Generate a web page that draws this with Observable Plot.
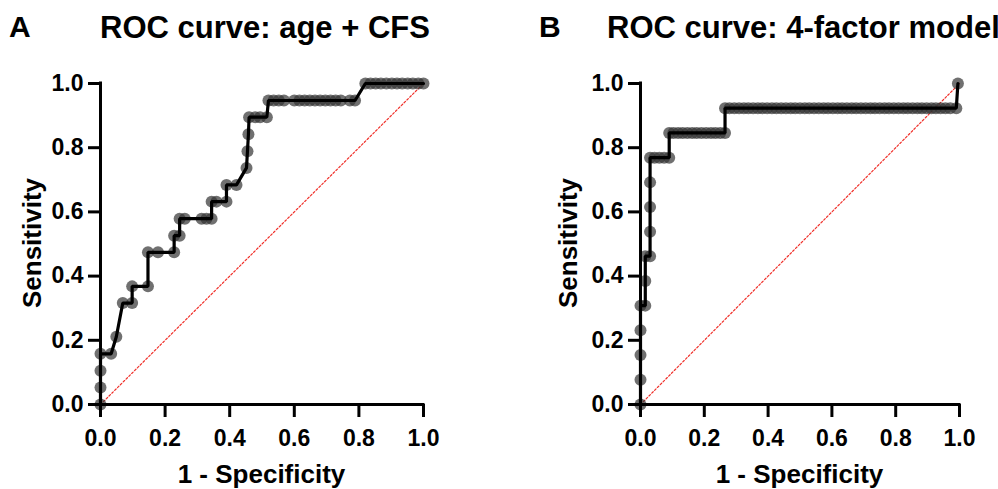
<!DOCTYPE html>
<html>
<head>
<meta charset="utf-8">
<script src="https://cdn.jsdelivr.net/npm/d3@7"></script>
<script src="https://cdn.jsdelivr.net/npm/@observablehq/plot@0.6"></script>
<style>
  html, body { margin: 0; padding: 0; background: white; overflow: hidden; }
  #wrap { position: relative; width: 998px; height: 489px; }
  #wrap svg { position: absolute; top: 0; }
</style>
</head>
<body>
<div id="wrap"></div>
<script>
// ---- Data ----
const titleA = "ROC curve: age + CFS";
const titleB = "ROC curve: 4-factor model";
const letterA = "A";
const letterB = "B";
const xLabel = "1 - Specificity";
const yLabel = "Sensitivity";
const tickValues = [0, 0.2, 0.4, 0.6, 0.8, 1.0];

// Panel A: age + CFS (1 - specificity, sensitivity)
const fprA = [0, 0, 0, 0, 0.033, 0.049, 0.069, 0.098, 0.098, 0.147, 0.147, 0.178, 0.228, 0.228, 0.245, 0.245,
  0.261, 0.313, 0.328, 0.344, 0.344, 0.359, 0.390, 0.390, 0.421, 0.452, 0.455, 0.458, 0.460, 0.479, 0.494, 0.515,
  0.520, 0.536, 0.552, 0.568, 0.600, 0.616, 0.632, 0.648, 0.664, 0.680, 0.696, 0.712, 0.728, 0.744, 0.772, 0.788,
  0.820, 0.836, 0.852, 0.868, 0.885, 0.902, 0.918, 0.934, 0.951, 0.967, 0.984, 1.0];
const sensA = [0, 0.053, 0.105, 0.158, 0.158, 0.211, 0.316, 0.316, 0.368, 0.368, 0.474, 0.474, 0.474, 0.526, 0.526, 0.579,
  0.579, 0.579, 0.579, 0.579, 0.632, 0.632, 0.632, 0.684, 0.684, 0.737, 0.789, 0.842, 0.895, 0.895, 0.895, 0.895,
  0.947, 0.947, 0.947, 0.947, 0.947, 0.947, 0.947, 0.947, 0.947, 0.947, 0.947, 0.947, 0.947, 0.947, 0.947, 0.947,
  1.0, 1.0, 1.0, 1.0, 1.0, 1.0, 1.0, 1.0, 1.0, 1.0, 1.0, 1.0];

// Panel B: 4-factor model
const fprB = [0, 0, 0, 0, 0, 0.015, 0.015, 0.015, 0.030, 0.030, 0.030, 0.030, 0.030, 0.044, 0.059, 0.074, 0.090,
  0.090, 0.103, 0.118, 0.132, 0.147, 0.162, 0.176, 0.191, 0.206, 0.221, 0.235, 0.250, 0.265,
  0.265, 0.279, 0.294, 0.309, 0.324, 0.338, 0.353, 0.368, 0.382, 0.397, 0.412, 0.426, 0.441, 0.456, 0.471, 0.485,
  0.500, 0.515, 0.529, 0.544, 0.559, 0.574, 0.588, 0.603, 0.618, 0.632, 0.647, 0.662, 0.676, 0.691, 0.706, 0.721,
  0.735, 0.750, 0.765, 0.779, 0.794, 0.809, 0.824, 0.838, 0.853, 0.868, 0.882, 0.897, 0.912, 0.926, 0.941, 0.956,
  0.971, 0.990, 0.995];
const sensB = [0, 0.077, 0.154, 0.231, 0.308, 0.308, 0.385, 0.462, 0.462, 0.538, 0.615, 0.692, 0.769, 0.769, 0.769, 0.769, 0.769,
  0.846, 0.846, 0.846, 0.846, 0.846, 0.846, 0.846, 0.846, 0.846, 0.846, 0.846, 0.846, 0.846,
  0.923, 0.923, 0.923, 0.923, 0.923, 0.923, 0.923, 0.923, 0.923, 0.923, 0.923, 0.923, 0.923, 0.923, 0.923, 0.923,
  0.923, 0.923, 0.923, 0.923, 0.923, 0.923, 0.923, 0.923, 0.923, 0.923, 0.923, 0.923, 0.923, 0.923, 0.923, 0.923,
  0.923, 0.923, 0.923, 0.923, 0.923, 0.923, 0.923, 0.923, 0.923, 0.923, 0.923, 0.923, 0.923, 0.923, 0.923, 0.923,
  0.923, 0.923, 1.0];

const chance = [0, 1];

const FONT = "'Liberation Sans', Arial, Helvetica, sans-serif";

function panel({fpr, sens, left, marginLeft, marginRight, title, titleX, letter, letterX, ylabX}) {
  const data = fpr.map((x, i) => ({x, y: sens[i]}));
  const W = 499, H = 489, mTop = 83, mBottom = 85;
  const svg = Plot.plot({
    width: W, height: H,
    marginLeft, marginRight, marginTop: mTop, marginBottom: mBottom,
    x: {domain: [0, 1]},
    y: {domain: [0, 1]},
    style: {fontFamily: FONT, fontWeight: "bold", fontSize: "23px", color: "black", background: "white", overflow: "visible"},
    marks: [
      Plot.line(chance, {x: d => d, y: d => d, stroke: "#f0302a", strokeWidth: 1.2, strokeDasharray: "2,2"}),
      Plot.dot(data, {x: "x", y: "y", r: 6, fill: "#333333", fillOpacity: 0.7, stroke: "none"}),
      Plot.line(data, {x: "x", y: "y", stroke: "black", strokeWidth: 3.2, strokeLinejoin: "miter"}),
      Plot.axisX({ticks: tickValues, tickFormat: d3.format(".1f"), tickSize: 13, tickPadding: 12, strokeWidth: 3, label: null}),
      Plot.axisY({ticks: tickValues, tickFormat: d3.format(".1f"), tickSize: 12, tickPadding: 5, strokeWidth: 3, label: null}),
      Plot.ruleX([0], {strokeWidth: 3, strokeLinecap: "square"}),
      Plot.ruleY([0], {strokeWidth: 3, strokeLinecap: "square"})
    ]
  });
  svg.style.left = left + "px";
  const s = d3.select(svg);
  const frameCx = marginLeft + (W - marginLeft - marginRight) / 2;
  s.append("text").attr("x", letterX).attr("y", 37).attr("text-anchor", "start").attr("font-size", 30)
    .attr("font-weight", "bold").attr("font-family", FONT).attr("fill", "black").text(letter);
  s.append("text").attr("x", titleX).attr("y", 38).attr("text-anchor", "start").attr("font-size", 31)
    .attr("font-weight", "bold").attr("font-family", FONT).attr("fill", "black").text(title);
  s.append("text").attr("x", frameCx).attr("y", 483).attr("text-anchor", "middle").attr("font-size", 26)
    .attr("font-weight", "bold").attr("font-family", FONT).attr("fill", "black").text(xLabel);
  s.append("text").attr("transform", `translate(${ylabX},243) rotate(-90)`).attr("text-anchor", "middle")
    .attr("font-size", 26).attr("font-weight", "bold").attr("font-family", FONT).attr("fill", "black").text(yLabel);
  return svg;
}

const wrap = document.getElementById("wrap");
wrap.appendChild(panel({fpr: fprA, sens: sensA, left: 0, marginLeft: 100, marginRight: 76,
  title: titleA, titleX: 100, letter: letterA, letterX: 9, ylabX: 41}));
wrap.appendChild(panel({fpr: fprB, sens: sensB, left: 499, marginLeft: 141, marginRight: 39,
  title: titleB, titleX: 108, letter: letterB, letterX: 40, ylabX: 78}));
</script>
</body>
</html>
